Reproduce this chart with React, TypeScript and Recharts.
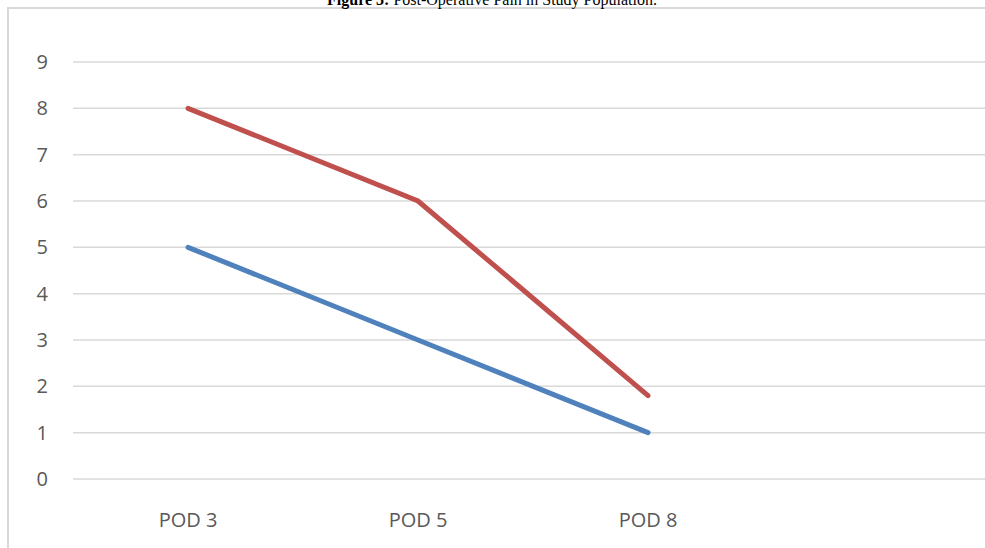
import { LineChart, Line, XAxis, YAxis, CartesianGrid } from "recharts";

// categories (last slot is an empty category in the original sheet)
const days = ["POD 3", "POD 5", "POD 8", ""];
const groupA = [5, 3, 1, null];
const groupB = [8, 6, 1.8, null];
const yTicks = [0, 1, 2, 3, 4, 5, 6, 7, 8, 9];

const data = days.map((day, i) => ({ day, groupA: groupA[i], groupB: groupB[i] }));

const tickStyle = { fill: "#595959", fontSize: 20, fontFamily: "'Open Sans', sans-serif" };

export default function App() {
    return (
        <div style={{ position: "absolute", left: 0, top: 0, width: 985, height: 548, overflow: "hidden", background: "#fff" }}>
            {/* chart frame, cropped at the right and bottom like the scan */}
            <div style={{ position: "absolute", left: 7, top: 7, width: 1100, height: 700, border: "2px solid #d9d9d9" }} />
            <svg width={985} height={20} style={{ position: "absolute", left: 0, top: 0 }}>
                <text x={492} y={4.5} textAnchor="middle" fontFamily="'Liberation Serif', serif" fontSize={16} fill="#000">
                    <tspan fontWeight="bold">Figure 3:</tspan> Post-Operative Pain in Study Population.
                </text>
            </svg>
            <div style={{ position: "absolute", left: 0, top: 0 }}>
                <LineChart width={1000} height={548} data={data} margin={{ top: 62, right: 7, bottom: 0, left: 0 }}>
                    <CartesianGrid vertical={false} stroke="#d9d9d9" strokeWidth={1.5} />
                    <XAxis
                        dataKey="day"
                        scale="band"
                        height={69}
                        axisLine={false}
                        tickLine={false}
                        tickSize={0}
                        tickMargin={34}
                        interval={0}
                        tick={tickStyle}
                    />
                    <YAxis
                        width={73}
                        domain={[0, 9]}
                        ticks={yTicks}
                        interval={0}
                        axisLine={false}
                        tickLine={false}
                        tickSize={0}
                        tickMargin={25}
                        tick={tickStyle}
                    />
                    <Line dataKey="groupA" name="Group A" stroke="#4f81bd" strokeWidth={5} strokeLinecap="round" dot={false} isAnimationActive={false} />
                    <Line dataKey="groupB" name="Group B" stroke="#c0504d" strokeWidth={5} strokeLinecap="round" dot={false} isAnimationActive={false} />
                </LineChart>
            </div>
        </div>
    );
}
